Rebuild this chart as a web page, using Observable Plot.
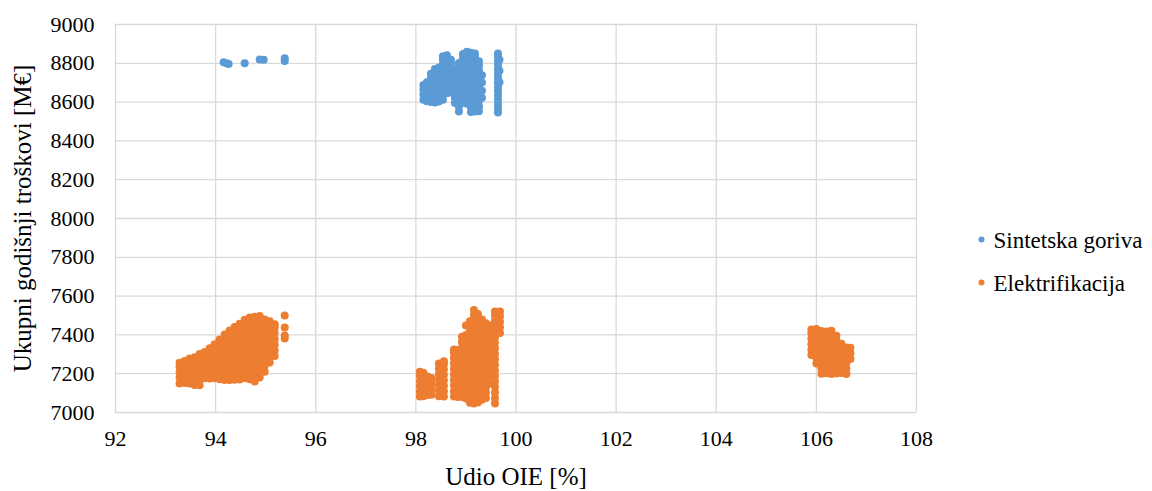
<!DOCTYPE html>
<html>
<head>
<meta charset="utf-8">
<script src="https://cdn.jsdelivr.net/npm/d3@7"></script>
<script src="https://cdn.jsdelivr.net/npm/@observablehq/plot@0.6"></script>
<style>
  html, body { margin: 0; padding: 0; background: #fff; overflow: hidden; }
  #chart svg, #chart svg text, #chart svg g { font-family: "Liberation Serif", "Times New Roman", serif !important; }
</style>
</head>
<body>
<div id="chart"></div>
<script>
// ---- Data ----
const xTicks = [92, 94, 96, 98, 100, 102, 104, 106, 108];
const yTicks = [7000, 7200, 7400, 7600, 7800, 8000, 8200, 8400, 8600, 8800, 9000];
const xTitle = "Udio OIE [%]";
const yTitle = "Ukupni godišnji troškovi [M€]";
const seriesNames = ["Sintetska goriva", "Elektrifikacija"];
const seriesColors = ["#5B9BD5", "#ED7D31"];

// Each row: [udio OIE, costs...] – observed points in that narrow x column
const sintetskaA = [
  [94.16, 8806], [94.22, 8800], [94.26, 8797], [94.58, 8800],
  [94.88, 8820], [94.96, 8818], [95.38, 8812, 8826]
];
const sintetskaB = [
  [98.15, 8612, 8640, 8666, 8688],
  [98.22, 8604, 8631, 8655, 8679, 8702],
  [98.30, 8601, 8627, 8649, 8675, 8697, 8722, 8746],
  [98.38, 8598, 8624, 8650, 8673, 8701, 8725, 8752, 8770],
  [98.46, 8603, 8629, 8656, 8681, 8705, 8731, 8754, 8778],
  [98.54, 8612, 8641, 8667, 8695, 8719, 8747, 8771, 8797, 8820, 8836],
  [98.62, 8646, 8673, 8697, 8723, 8749, 8773, 8801, 8824, 8842],
  [98.70, 8650, 8675, 8702, 8726, 8750, 8777, 8799, 8818],
  [98.78, 8596, 8621, 8645, 8671, 8697, 8722, 8745, 8771],
  [98.86, 8552, 8576, 8601, 8627, 8651, 8679, 8703, 8729, 8757, 8781, 8802],
  [98.94, 8597, 8619, 8646, 8669, 8697, 8721, 8749, 8773, 8799, 8825, 8848],
  [99.02, 8591, 8617, 8641, 8669, 8693, 8719, 8747, 8771, 8797, 8823, 8847, 8860],
  [99.10, 8549, 8573, 8599, 8623, 8651, 8675, 8703, 8727, 8755, 8779, 8807, 8831, 8855],
  [99.18, 8551, 8575, 8601, 8625, 8653, 8677, 8705, 8729, 8757, 8781, 8809, 8833, 8850],
  [99.26, 8553, 8579, 8607, 8631, 8659, 8683, 8711, 8735, 8763, 8787, 8811],
  [99.32, 8622, 8658, 8701, 8738],
  [99.64, 8546, 8568, 8590, 8612, 8635, 8657, 8679, 8702, 8724, 8746, 8769, 8791, 8813, 8834, 8851],
  [99.67, 8702, 8761, 8818]
];
const elektrifikacijaA = [
  [93.28, 7150, 7181, 7208, 7237, 7257],
  [93.38, 7152, 7179, 7213, 7240, 7266],
  [93.48, 7149, 7177, 7207, 7233, 7262, 7278],
  [93.58, 7142, 7171, 7201, 7229, 7259, 7285],
  [93.68, 7141, 7170, 7199, 7227, 7257, 7284, 7302],
  [93.78, 7176, 7204, 7233, 7261, 7291, 7312],
  [93.88, 7175, 7206, 7234, 7264, 7296, 7331],
  [93.98, 7176, 7205, 7237, 7265, 7297, 7325, 7352],
  [94.08, 7172, 7201, 7229, 7261, 7289, 7321, 7349, 7376],
  [94.18, 7168, 7197, 7229, 7257, 7289, 7317, 7349, 7377, 7402],
  [94.28, 7168, 7196, 7227, 7255, 7287, 7315, 7347, 7375, 7404, 7423],
  [94.38, 7169, 7198, 7227, 7259, 7287, 7319, 7347, 7379, 7407, 7441],
  [94.48, 7170, 7199, 7231, 7259, 7291, 7319, 7351, 7379, 7411, 7439, 7458],
  [94.58, 7176, 7207, 7235, 7267, 7295, 7327, 7355, 7387, 7415, 7447, 7478],
  [94.68, 7172, 7201, 7233, 7261, 7293, 7321, 7353, 7381, 7413, 7441, 7471, 7490],
  [94.78, 7160, 7191, 7219, 7251, 7279, 7311, 7339, 7371, 7399, 7431, 7459, 7494],
  [94.88, 7180, 7207, 7235, 7267, 7295, 7327, 7355, 7387, 7415, 7447, 7475, 7497],
  [94.98, 7210, 7241, 7269, 7301, 7329, 7361, 7389, 7421, 7449, 7479],
  [95.08, 7258, 7283, 7311, 7340, 7367, 7395, 7423, 7450, 7471],
  [95.18, 7291, 7319, 7351, 7379, 7411, 7439, 7455],
  [95.38, 7381, 7397, 7438, 7500]
];
const elektrifikacijaB = [
  [98.08, 7082, 7108, 7136, 7161, 7189, 7210],
  [98.15, 7084, 7111, 7139, 7166, 7193, 7205],
  [98.23, 7090, 7117, 7146, 7172, 7186],
  [98.31, 7092, 7121, 7150, 7178],
  [98.46, 7084, 7112, 7140, 7169, 7197, 7226, 7252],
  [98.56, 7082, 7109, 7138, 7166, 7195, 7223, 7250, 7264],
  [98.76, 7082, 7110, 7139, 7167, 7196, 7224, 7253, 7281, 7308, 7325],
  [98.84, 7080, 7108, 7137, 7165, 7194, 7222, 7251, 7279, 7306, 7322],
  [98.92, 7080, 7107, 7135, 7164, 7192, 7221, 7249, 7278, 7306, 7335, 7363, 7390],
  [99.00, 7072, 7099, 7127, 7156, 7184, 7213, 7241, 7270, 7298, 7327, 7355, 7384, 7400, 7448],
  [99.08, 7050, 7078, 7107, 7135, 7164, 7192, 7221, 7249, 7278, 7306, 7335, 7363, 7392, 7420, 7448, 7470],
  [99.16, 7046, 7074, 7103, 7131, 7160, 7188, 7217, 7245, 7274, 7302, 7331, 7359, 7388, 7416, 7445, 7473, 7502, 7528],
  [99.24, 7052, 7080, 7109, 7137, 7166, 7194, 7223, 7251, 7280, 7308, 7337, 7365, 7394, 7422, 7451, 7479, 7508],
  [99.32, 7066, 7094, 7123, 7151, 7180, 7208, 7237, 7265, 7294, 7322, 7351, 7379, 7408, 7436, 7462, 7480],
  [99.40, 7075, 7103, 7132, 7160, 7189, 7217, 7246, 7274, 7303, 7331, 7360, 7388, 7417, 7440, 7460],
  [99.47, 7150, 7190, 7230, 7268, 7302, 7340, 7378, 7412, 7448],
  [99.58, 7046, 7074, 7103, 7131, 7160, 7188, 7217, 7245, 7274, 7302, 7331, 7359, 7388, 7416, 7445, 7473, 7500, 7520],
  [99.68, 7410, 7440, 7468, 7496, 7520]
];
const elektrifikacijaC = [
  [105.90, 7296, 7324, 7352, 7381, 7409, 7428],
  [106.00, 7252, 7280, 7309, 7337, 7366, 7394, 7422, 7431],
  [106.10, 7200, 7228, 7257, 7285, 7314, 7342, 7371, 7399, 7420],
  [106.20, 7202, 7230, 7259, 7287, 7316, 7344, 7373, 7401, 7418],
  [106.30, 7199, 7227, 7256, 7284, 7313, 7341, 7370, 7398, 7422],
  [106.40, 7201, 7229, 7258, 7286, 7315, 7343, 7372, 7396],
  [106.50, 7203, 7231, 7260, 7288, 7317, 7345, 7355],
  [106.60, 7199, 7227, 7256, 7284, 7313, 7335],
  [106.68, 7276, 7305, 7334]
];

// ---- Build tables ----
const toRows = (cols, series) =>
  cols.flatMap(([x, ...ys]) => ys.map(y => ({x, y, series})));
const pointsSG = [...toRows(sintetskaA, seriesNames[0]), ...toRows(sintetskaB, seriesNames[0])];
const pointsEL = [...toRows(elektrifikacijaA, seriesNames[1]), ...toRows(elektrifikacijaB, seriesNames[1]), ...toRows(elektrifikacijaC, seriesNames[1])];

const FONT = "Liberation Serif, Times New Roman, serif";
const gridStyle = {stroke: "#d9d9d9", strokeOpacity: 1, strokeWidth: 1.3};
const fmt = d => String(d);

const legendMarks = seriesNames.flatMap((name, i) => [
  Plot.dot([name], {frameAnchor: "right", dx: 65, dy: 21 + i * 43, r: 3, fill: seriesColors[i], stroke: null}),
  Plot.text([name], {frameAnchor: "right", dx: 77, dy: 22 + i * 43, textAnchor: "start", lineAnchor: "middle", fontSize: 23, fontFamily: FONT, fill: "#000"})
]);

const chart = Plot.plot({
  width: 1152,
  height: 491,
  marginLeft: 115,
  marginRight: 236,
  marginTop: 24,
  marginBottom: 79,
  style: "font-family: 'Liberation Serif', 'Times New Roman', serif; font-size: 22px; color: #000; background: #fff;",
  x: {domain: [92, 108], ticks: xTicks, label: null, tickFormat: fmt},
  y: {domain: [7000, 9000], ticks: yTicks, label: null, tickFormat: fmt},
  marks: [
    Plot.gridX(xTicks, gridStyle),
    Plot.gridY(yTicks, gridStyle),
    Plot.axisX(xTicks, {tickSize: 0, tickPadding: 18, label: null, fontSize: 22, fontFamily: FONT, fill: "#000", tickFormat: fmt}),
    Plot.axisY(yTicks, {tickSize: 0, tickPadding: 21, label: null, fontSize: 22, fontFamily: FONT, fill: "#000", tickFormat: fmt}),
    Plot.dot(pointsSG, {x: "x", y: "y", r: 4, fill: seriesColors[0], stroke: null}),
    Plot.dot(pointsEL, {x: "x", y: "y", r: 4, fill: seriesColors[1], stroke: null}),
    Plot.text([yTitle], {frameAnchor: "left", dx: -93, rotate: -90, textAnchor: "middle", lineAnchor: "middle", fontSize: 25, fontFamily: FONT, fill: "#000"}),
    Plot.text([xTitle], {frameAnchor: "bottom", dy: 64, textAnchor: "middle", lineAnchor: "middle", fontSize: 25, fontFamily: FONT, fill: "#000"}),
    ...legendMarks
  ]
});
document.getElementById("chart").appendChild(chart);
</script>
</body>
</html>
